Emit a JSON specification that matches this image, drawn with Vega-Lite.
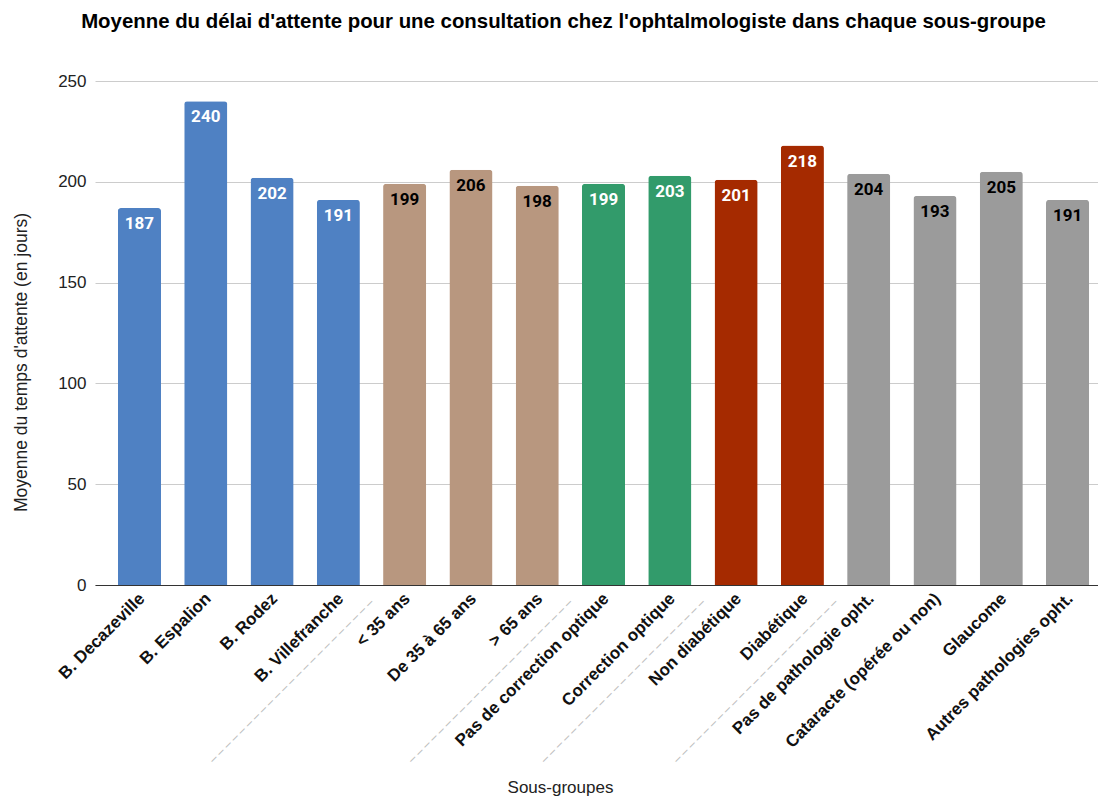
{
  "$schema": "https://vega.github.io/schema/vega-lite/v6.json",
  "autosize": {"type": "none"},
  "padding": {"left": 95, "top": 81, "right": 0, "bottom": 211},
  "width": 1003,
  "height": 504,
  "background": "white",
  "title": {
    "text": "Moyenne du délai d'attente pour une consultation chez l'ophtalmologiste dans chaque sous-groupe",
    "font": "Liberation Sans",
    "fontSize": 20.4,
    "fontWeight": "bold",
    "color": "#000000",
    "anchor": "middle",
    "dx": -33,
    "offset": 40
  },
  "config": {
    "view": {"stroke": null},
    "font": "Liberation Sans"
  },
  "data": {
    "values": [
      {"sous_groupe": "B. Decazeville", "groupe": "Bassin", "moyenne": 187},
      {"sous_groupe": "B. Espalion", "groupe": "Bassin", "moyenne": 240},
      {"sous_groupe": "B. Rodez", "groupe": "Bassin", "moyenne": 202},
      {"sous_groupe": "B. Villefranche", "groupe": "Bassin", "moyenne": 191},
      {"sous_groupe": "< 35 ans", "groupe": "Âge", "moyenne": 199},
      {"sous_groupe": "De 35 à 65 ans", "groupe": "Âge", "moyenne": 206},
      {"sous_groupe": "> 65 ans", "groupe": "Âge", "moyenne": 198},
      {"sous_groupe": "Pas de correction optique", "groupe": "Correction", "moyenne": 199},
      {"sous_groupe": "Correction optique", "groupe": "Correction", "moyenne": 203},
      {"sous_groupe": "Non diabétique", "groupe": "Diabète", "moyenne": 201},
      {"sous_groupe": "Diabétique", "groupe": "Diabète", "moyenne": 218},
      {"sous_groupe": "Pas de pathologie opht.", "groupe": "Pathologie", "moyenne": 204},
      {"sous_groupe": "Cataracte (opérée ou non)", "groupe": "Pathologie", "moyenne": 193},
      {"sous_groupe": "Glaucome", "groupe": "Pathologie", "moyenne": 205},
      {"sous_groupe": "Autres pathologies opht.", "groupe": "Pathologie", "moyenne": 191}
    ]
  },
  "encoding": {
    "x": {
      "field": "sous_groupe",
      "type": "nominal",
      "sort": null,
      "scale": {"paddingInner": 0.35, "paddingOuter": 0.24, "align": 0.72},
      "axis": {
        "orient": "bottom",
        "title": "Sous-groupes",
        "titleFont": "Liberation Sans",
        "titleFontSize": 17,
        "titleFontWeight": "normal",
        "titleColor": "#222222",
        "titleX": 465,
        "titleY": 202,
        "titleBaseline": "middle",
        "labelAngle": -45,
        "labelFont": "Liberation Sans",
        "labelFontSize": 17,
        "labelFontWeight": "bold",
        "labelColor": "#111111",
        "labelPadding": 5,
        "labelOffset": -3,
        "labelOverlap": false,
        "labelLimit": 400,
        "ticks": false,
        "domainColor": "#333333",
        "domainWidth": 1,
        "grid": false
      }
    },
    "y": {
      "field": "moyenne",
      "type": "quantitative",
      "scale": {"domain": [0, 250], "nice": false},
      "axis": {
        "title": "Moyenne du temps d'attente (en jours)",
        "titleFont": "Liberation Sans",
        "titleFontSize": 17.5,
        "titleFontWeight": "normal",
        "titleColor": "#222222",
        "titleX": -74,
        "titleY": 281,
        "titleBaseline": "middle",
        "titleAlign": "center",
        "values": [0, 50, 100, 150, 200, 250],
        "labelFont": "Liberation Sans",
        "labelFontSize": 17,
        "labelColor": "#222222",
        "labelPadding": 9,
        "ticks": false,
        "domain": false,
        "gridColor": "#cccccc",
        "gridWidth": 1
      }
    }
  },
  "layer": [
    {
      "mark": {"type": "bar", "cornerRadiusTopLeft": 3, "cornerRadiusTopRight": 3},
      "encoding": {
        "color": {
          "field": "groupe",
          "type": "nominal",
          "scale": {
            "domain": ["Bassin", "Âge", "Correction", "Diabète", "Pathologie"],
            "range": ["#4f81c3", "#b8977f", "#329b6b", "#a52a00", "#9b9b9b"]
          },
          "legend": null
        }
      }
    },
    {
      "mark": {
        "type": "text",
        "font": "Roboto",
        "fontSize": 17,
        "fontWeight": "bold",
        "baseline": "middle",
        "dy": 16
      },
      "encoding": {
        "x": {
          "field": "sous_groupe",
          "type": "nominal",
          "sort": null,
          "axis": {
            "orient": "bottom",
            "title": null,
            "domain": false,
            "ticks": false,
            "grid": false,
            "labelExpr": "indexof(['B. Villefranche', '> 65 ans', 'Correction optique', 'Diabétique'], datum.value) >= 0 ? '– – – – – – – – – – – – – – – – – – – – – – –' : ''",
            "labelAngle": -45,
            "labelAlign": "right",
            "labelBaseline": "middle",
            "labelFont": "Liberation Sans",
            "labelFontSize": 12,
            "labelColor": "#bdbdbd",
            "labelOffset": 33,
            "labelPadding": 15,
            "labelOverlap": false,
            "labelBound": false,
            "labelLimit": 0
          }
        },
        "text": {"field": "moyenne", "type": "quantitative"},
        "color": {
          "condition": {"test": "datum.groupe === 'Âge' || datum.groupe === 'Pathologie'", "value": "#000000"},
          "value": "#ffffff"
        }
      }
    }
  ],
  "resolve": {"axis": {"x": "independent"}}
}
